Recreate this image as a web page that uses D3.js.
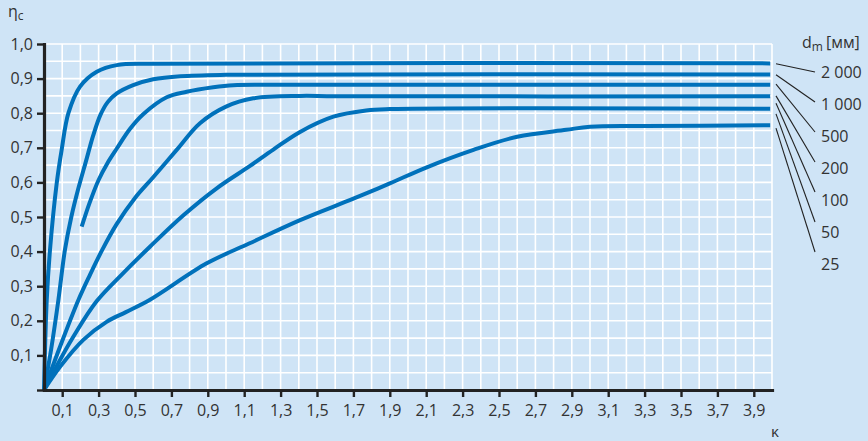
<!DOCTYPE html>
<html><head><meta charset="utf-8">
<script src="https://cdn.jsdelivr.net/npm/d3@7"></script>
<style>
body{margin:0;background:#cfe4f6;}
text{font-family:"Open Sans",sans-serif;fill:#333;}
</style>
</head><body>
<svg id="chart" width="868" height="441"></svg>
<script>
// ---- data (κ, η_c) ----
const series2000 = [[0,0],[0.015,0.26],[0.033,0.405],[0.07,0.598],[0.097,0.694],[0.134,0.8],[0.198,0.877],[0.29,0.92],[0.4,0.939],[0.6,0.943],[3.99,0.944]];
const series1000 = [[0,0],[0.04,0.12],[0.079,0.26],[0.115,0.405],[0.15,0.5],[0.19,0.585],[0.23,0.66],[0.27,0.735],[0.31,0.795],[0.35,0.832],[0.4,0.857],[0.49,0.881],[0.6,0.898],[0.75,0.907],[1.0,0.911],[3.99,0.912]];
const series500  = [[0.207,0.472],[0.25,0.54],[0.3,0.607],[0.35,0.657],[0.4,0.698],[0.473,0.755],[0.545,0.797],[0.674,0.846],[0.784,0.862],[0.93,0.875],[1.04,0.881],[1.3,0.882],[3.99,0.882]];
const series200  = [[0,0],[0.088,0.125],[0.189,0.26],[0.25,0.33],[0.32,0.405],[0.4,0.48],[0.5,0.555],[0.6,0.615],[0.729,0.694],[0.857,0.771],[1.0,0.819],[1.15,0.843],[1.41,0.85],[1.6,0.849],[3.99,0.849]];
const series100  = [[0,0],[0.088,0.087],[0.161,0.154],[0.29,0.257],[0.43,0.335],[0.582,0.414],[0.766,0.505],[0.949,0.583],[1.13,0.647],[1.26,0.695],[1.407,0.746],[1.59,0.79],[1.77,0.808],[1.9,0.812],[3.99,0.813]];
const series50   = [[0,0],[0.088,0.067],[0.216,0.145],[0.344,0.197],[0.45,0.225],[0.58,0.26],[0.894,0.366],[1.13,0.424],[1.407,0.491],[1.7,0.553],[1.9,0.597],[2.1,0.643],[2.36,0.694],[2.6,0.732],[2.87,0.752],[3.0,0.761],[3.3,0.763],[3.99,0.765]];
const allSeries = [series2000, series1000, series500, series200, series100, series50];

const xTickValues = d3.range(1, 40, 2).map(i => i / 10);      // 0,1 … 3,9
const yTickValues = d3.range(0, 11).map(i => i / 10);         // 0 … 1,0
const legendLabels = ["2 000", "1 000", "500", "200", "100", "50", "25"];
const legendAnchors = [0.943, 0.911, 0.884, 0.85, 0.829, 0.798, 0.757];

// ---- drawing ----
const svg = d3.select("#chart");
svg.append("rect").attr("width", 868).attr("height", 441).attr("fill", "#cfe4f6");

const x = d3.scaleLinear().domain([0, 4]).range([44, 772]);
const y = d3.scaleLinear().domain([0, 1]).range([390, 44]);
const fmt = v => d3.format(".1f")(v).replace(".", ",");

// grid
const g = svg.append("g");
g.selectAll("line.v").data(d3.range(1, 41).map(i => i / 10)).join("line")
  .attr("x1", d => x(d)).attr("x2", d => x(d)).attr("y1", y(0)).attr("y2", y(1))
  .attr("stroke", "#fff").attr("stroke-width", 1.6);
g.selectAll("line.h").data(d3.range(1, 21).map(i => i / 20)).join("line")
  .attr("x1", x(0)).attr("x2", x(4)).attr("y1", d => y(d)).attr("y2", d => y(d))
  .attr("stroke", "#fff").attr("stroke-width", 1.6);

// curves
const line = d3.line().x(d => x(d[0])).y(d => y(d[1])).curve(d3.curveCatmullRom.alpha(0.5));
svg.append("g").selectAll("path").data(allSeries).join("path")
  .attr("d", line).attr("fill", "none").attr("stroke", "#0071bb")
  .attr("stroke-width", 4).attr("stroke-linejoin", "round");

// axes
const xAxis = d3.axisBottom(x).tickValues(xTickValues).tickFormat(fmt).tickSize(7).tickSizeOuter(0).tickPadding(8);
const yAxis = d3.axisLeft(y).tickValues(yTickValues).tickFormat(d => d === 0 ? "" : fmt(d)).tickSize(7).tickSizeOuter(0).tickPadding(4);
const gx = svg.append("g").attr("transform", `translate(0,${y(0)})`).call(xAxis);
const gy = svg.append("g").attr("transform", `translate(${x(0)},0)`).call(yAxis);
[gx, gy].forEach(a => {
  a.select(".domain").attr("stroke", "#222").attr("stroke-width", 3.2).attr("stroke-linecap", "square");
  a.selectAll(".tick line").attr("stroke", "#222").attr("stroke-width", 2.4);
  a.selectAll(".tick text").attr("font-size", 16).attr("fill", "#333")
    .attr("font-family", "'Open Sans',sans-serif");
});

// axis titles
const t1 = svg.append("text").attr("x", 8).attr("y", 17).attr("font-size", 16);
t1.append("tspan").text("η");
t1.append("tspan").attr("font-size", 12).attr("dy", 3).text("c");
svg.append("text").attr("x", 771).attr("y", 437).attr("font-size", 15).text("κ");

// legend
const lt = svg.append("text").attr("x", 802).attr("y", 48).attr("font-size", 16);
lt.append("tspan").text("d");
lt.append("tspan").attr("font-size", 12).attr("dy", 3).text("m");
lt.append("tspan").attr("dy", -3).attr("dx", 3).text("[мм]");

const leg = svg.append("g").selectAll("g").data(legendLabels).join("g");
leg.append("line")
  .attr("x1", x(4) + 4).attr("y1", (d, i) => y(legendAnchors[i]))
  .attr("x2", 815).attr("y2", (d, i) => 72 + i * 32 - i * 2)
  .attr("stroke", "#222").attr("stroke-width", 1.1);
leg.append("text")
  .attr("x", 821).attr("y", (d, i) => 72 + i * 32).attr("dy", "0.36em")
  .attr("font-size", 16).text(d => d);
</script>
</body></html>
